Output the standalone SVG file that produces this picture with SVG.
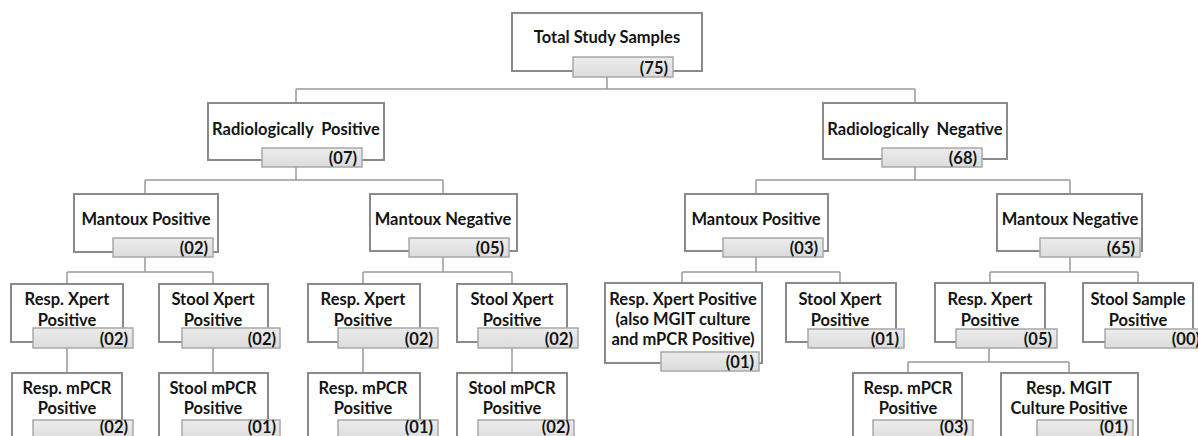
<svg xmlns="http://www.w3.org/2000/svg" width="1198" height="436" viewBox="0 0 1198 436">
<defs>
<linearGradient id="g" x1="0" y1="0" x2="0" y2="1">
<stop offset="0" stop-color="#ececec"/>
<stop offset="1" stop-color="#dcdcdc"/>
</linearGradient>
</defs>
<style>
.box{fill:#fff;stroke:#8a8a8a;stroke-width:2}
.lab{fill:url(#g);stroke:#a8a8a8;stroke-width:1.5}
.t{font-family:Lato,"Liberation Sans",sans-serif;font-weight:bold;font-size:16.5px;fill:#141414;text-anchor:middle}
.n{font-family:Lato,"Liberation Sans",sans-serif;font-weight:bold;font-size:16.5px;fill:#141414;text-anchor:end}
.c{fill:none;stroke:#9a9a9a;stroke-width:1.5}
</style>
<rect width="1198" height="436" fill="#fff"/>
<g id="connectors">
<path class="c" d="M607 77V89M296 89H915M296 89V103M915 89V103"/>
<path class="c" d="M296 167V180M145 180H443M145 180V194M443 180V194"/>
<path class="c" d="M915 167V180M756 180H1070M756 180V194M1070 180V194"/>
<path class="c" d="M145 257V272M67 272H213M67 272V284M213 272V284"/>
<path class="c" d="M443 257V272M363 272H512M363 272V284M512 272V284"/>
<path class="c" d="M756 257V272M682 272H840M682 272V283M840 272V283"/>
<path class="c" d="M1070 257V272M990 272H1138M990 272V283M1138 272V283"/>
<path class="c" d="M67 348V373M213 348V373M363 348V373M512 348V373"/>
<path class="c" d="M989 348V362M908 362H1069M908 362V373M1069 362V373"/>
</g>
<g id="n-total">
<rect class="box" x="512" y="13" width="190" height="58"/>
<text class="t" x="607" y="43">Total Study Samples</text>
<rect class="lab" x="573" y="57" width="100" height="20"/>
<text class="n" x="668" y="74">(75)</text>
</g>
<g id="n-radpos">
<rect class="box" x="208" y="103" width="176" height="57"/>
<text class="t" x="296" y="135" xml:space="preserve">Radiologically  Positive</text>
<rect class="lab" x="262" y="148" width="100" height="19"/>
<text class="n" x="357" y="164">(07)</text>
</g>
<g id="n-radneg">
<rect class="box" x="823" y="103" width="184" height="56"/>
<text class="t" x="915" y="135" xml:space="preserve">Radiologically  Negative</text>
<rect class="lab" x="882" y="148" width="100" height="19"/>
<text class="n" x="977" y="164">(68)</text>
</g>
<g id="n-mantpos-l">
<rect class="box" x="74" y="194" width="144" height="58"/>
<text class="t" x="146" y="225">Mantoux Positive</text>
<rect class="lab" x="113" y="238" width="100" height="19"/>
<text class="n" x="208" y="254">(02)</text>
</g>
<g id="n-mantneg-l">
<rect class="box" x="370" y="194" width="147" height="57"/>
<text class="t" x="443" y="225">Mantoux Negative</text>
<rect class="lab" x="409" y="238" width="100" height="19"/>
<text class="n" x="504" y="254">(05)</text>
</g>
<g id="n-mantpos-r">
<rect class="box" x="685" y="194" width="143" height="57"/>
<text class="t" x="756" y="225">Mantoux Positive</text>
<rect class="lab" x="723" y="238" width="100" height="19"/>
<text class="n" x="818" y="254">(03)</text>
</g>
<g id="n-mantneg-r">
<rect class="box" x="997" y="194" width="145" height="57"/>
<text class="t" x="1070" y="225">Mantoux Negative</text>
<rect class="lab" x="1040" y="238" width="100" height="19"/>
<text class="n" x="1135" y="254">(65)</text>
</g>
<g id="n-respxp-1">
<rect class="box" x="11" y="284" width="112" height="58"/>
<text class="t" x="67" y="305">Resp. Xpert</text>
<text class="t" x="67" y="326">Positive</text>
<rect class="lab" x="33" y="328" width="100" height="20"/>
<text class="n" x="128" y="345">(02)</text>
</g>
<g id="n-stoolxp-1">
<rect class="box" x="159" y="284" width="109" height="58"/>
<text class="t" x="213" y="305">Stool Xpert</text>
<text class="t" x="213" y="326">Positive</text>
<rect class="lab" x="182" y="328" width="98" height="20"/>
<text class="n" x="276" y="345">(02)</text>
</g>
<g id="n-respxp-2">
<rect class="box" x="308" y="284" width="112" height="58"/>
<text class="t" x="363" y="305">Resp. Xpert</text>
<text class="t" x="363" y="326">Positive</text>
<rect class="lab" x="338" y="328" width="100" height="20"/>
<text class="n" x="433" y="345">(02)</text>
</g>
<g id="n-stoolxp-2">
<rect class="box" x="457" y="284" width="110" height="58"/>
<text class="t" x="512" y="305">Stool Xpert</text>
<text class="t" x="512" y="326">Positive</text>
<rect class="lab" x="478" y="328" width="100" height="20"/>
<text class="n" x="573" y="345">(02)</text>
</g>
<g id="n-respxp-3">
<rect class="box" x="605" y="283" width="157" height="80"/>
<text class="t" x="683" y="305">Resp. Xpert Positive</text>
<text class="t" x="683" y="325">(also MGIT culture</text>
<text class="t" x="683" y="345">and mPCR Positive)</text>
<rect class="lab" x="661" y="352" width="98" height="19"/>
<text class="n" x="754" y="368">(01)</text>
</g>
<g id="n-stoolxp-3">
<rect class="box" x="786" y="283" width="110" height="59"/>
<text class="t" x="840" y="305">Stool Xpert</text>
<text class="t" x="840" y="326">Positive</text>
<rect class="lab" x="808" y="329" width="96" height="19"/>
<text class="n" x="899" y="345">(01)</text>
</g>
<g id="n-respxp-4">
<rect class="box" x="935" y="283" width="110" height="59"/>
<text class="t" x="990" y="305">Resp. Xpert</text>
<text class="t" x="990" y="326">Positive</text>
<rect class="lab" x="956" y="329" width="101" height="19"/>
<text class="n" x="1052" y="345">(05)</text>
</g>
<g id="n-stoolsamp">
<rect class="box" x="1083" y="283" width="110" height="59"/>
<text class="t" x="1138" y="305">Stool Sample</text>
<text class="t" x="1138" y="326">Positive</text>
<rect class="lab" x="1105" y="329" width="100" height="19"/>
<text class="n" x="1200" y="345">(00)</text>
</g>
<g id="n-respmpcr-1">
<rect class="box" x="12" y="373" width="110" height="70"/>
<text class="t" x="67" y="394">Resp. mPCR</text>
<text class="t" x="67" y="414">Positive</text>
<rect class="lab" x="33" y="420" width="100" height="20"/>
<text class="n" x="128" y="433">(02)</text>
</g>
<g id="n-stoolmpcr-1">
<rect class="box" x="159" y="373" width="109" height="70"/>
<text class="t" x="213" y="394">Stool mPCR</text>
<text class="t" x="213" y="414">Positive</text>
<rect class="lab" x="182" y="420" width="98" height="20"/>
<text class="n" x="276" y="433">(01)</text>
</g>
<g id="n-respmpcr-2">
<rect class="box" x="308" y="373" width="112" height="70"/>
<text class="t" x="363" y="394">Resp. mPCR</text>
<text class="t" x="363" y="414">Positive</text>
<rect class="lab" x="338" y="420" width="100" height="20"/>
<text class="n" x="433" y="433">(01)</text>
</g>
<g id="n-stoolmpcr-2">
<rect class="box" x="457" y="373" width="110" height="70"/>
<text class="t" x="512" y="394">Stool mPCR</text>
<text class="t" x="512" y="414">Positive</text>
<rect class="lab" x="478" y="420" width="96" height="20"/>
<text class="n" x="570" y="433">(02)</text>
</g>
<g id="n-respmpcr-3">
<rect class="box" x="853" y="373" width="109" height="70"/>
<text class="t" x="908" y="394">Resp. mPCR</text>
<text class="t" x="908" y="414">Positive</text>
<rect class="lab" x="873" y="420" width="100" height="20"/>
<text class="n" x="968" y="433">(03)</text>
</g>
<g id="n-respmgit">
<rect class="box" x="1001" y="373" width="137" height="70"/>
<text class="t" x="1069" y="394">Resp. MGIT</text>
<text class="t" x="1069" y="414">Culture Positive</text>
<rect class="lab" x="1037" y="420" width="96" height="20"/>
<text class="n" x="1128" y="433">(01)</text>
</g>
</svg>
